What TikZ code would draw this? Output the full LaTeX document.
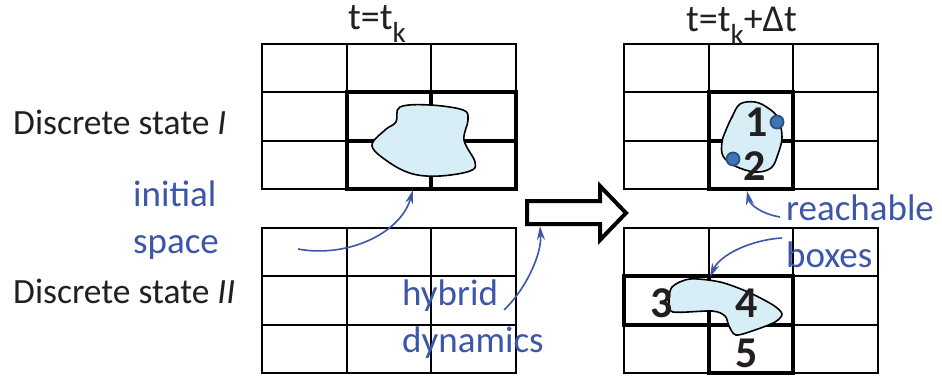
\documentclass[tikz,border=0pt]{standalone}
\usepackage{fontspec}
\setmainfont{Carlito}
\usetikzlibrary{arrows.meta,calc,positioning}
\definecolor{annot}{RGB}{60,86,168}
\definecolor{blobfill}{RGB}{216,238,246}
\definecolor{dotblue}{RGB}{62,117,181}
\definecolor{ink}{RGB}{35,31,32}
\tikzset{
  cell/.style={draw=black,line width=1.8pt},
  reach/.style={draw=black,line width=4pt},
  blob/.style={fill=blobfill,draw=black,line width=1.6pt},
  note/.style={text=annot,font=\fontsize{37}{47}\selectfont,align=left,inner sep=0pt},
  lbl/.style={text=ink,font=\fontsize{35.5}{40}\selectfont,inner sep=0pt},
  ttl/.style={text=ink,font=\fontsize{38}{40}\selectfont,inner sep=0pt},
  num/.style={text=ink,font=\bfseries\fontsize{44}{44}\selectfont,inner sep=0pt},
  pin/.style={-{Stealth[length=14pt,width=8pt]},annot,line width=1.6pt},
  pt/.style={circle,fill=dotblue,draw=dotblue!70!black,line width=1.8pt,inner sep=0pt,minimum size=13pt}
}
\newcommand{\subk}{\raisebox{-13pt}{\fontsize{29}{29}\selectfont k}}

\begin{document}
\begin{tikzpicture}[x=1pt,y=-1pt]
\useasboundingbox (0,0) rectangle (942,377);
% the four grids
\foreach \gx/\gy in {262/44,262/228,624/44,624/228}
  \foreach \i in {0,1,2}
    \foreach \j in {0,1,2}
      \draw[cell] (\gx+\i*84.67,\gy+\j*48.33) rectangle ++(84.67,48.33);
% boxes holding the set
\foreach \gx/\gy/\i/\j in {262/44/1/1,262/44/2/1,262/44/1/2,262/44/2/2,
  624/44/1/1,624/44/1/2,624/228/0/1,624/228/1/1,624/228/1/2}
  \draw[reach] (\gx+\i*84.67,\gy+\j*48.33) rectangle ++(84.67,48.33);
% sets
\draw[blob] plot[smooth cycle,tension=0.6] coordinates {(400,107) (430,105) (463,110) (468,120)
  (464,140) (475,162) (470,171) (440,176) (413,174) (390,163) (372,146) (385,130) (396,122)};
\draw[blob] plot[smooth cycle,tension=0.6] coordinates {(740,104) (755,102) (768,108) (778,118)
  (782,137) (778,154) (771,168) (755,172) (735,166) (723,156) (722,142) (726,130) (732,117)};
\draw[blob] plot[smooth cycle,tension=0.5] coordinates {(672,287) (690,279) (720,282) (748,292)
  (773,305) (782,314) (775,322) (755,330) (736,335) (729,326) (725,316) (712,311) (673,312) (669,302)};
% reached points and boxes
\node[pt] (p1) at (777,122) {};
\node[pt] (p2) at (733,159) {};
\node[num] (n1) at (757,122) {1};
\node[num] (n2) at (755,166) {2};
\node[num] (n3) at (662,303) {3};
\node[num] (n4) at (747,303) {4};
\node[num] (n5) at (747,353) {5};
% time step arrow
\draw[line width=4pt,miter limit=10] (527,201) -- (600,201) -- (600,186) -- (626,213)
  -- (600,240) -- (600,224) -- (527,224) -- cycle;
% titles and state labels
\node[ttl,anchor=base west] (tnow) at (348,30) {t=t\subk};
\node[ttl,anchor=base west] (tnext) at (686,32) {t=t\subk+Δt};
\node[lbl,anchor=base west] (stateI) at (13,135) {Discrete state \textit{I}};
\node[lbl,anchor=base west] (stateII) at (13,303) {Discrete state \textit{II}};
% annotations
\node[note,anchor=base west] (initnote) at (133,253) {initial\\space};
\node[note,anchor=base west] (hybnote) at (402,352) {hybrid\\dynamics};
\node[note,anchor=base west] (reachnote) at (786,267) {reachable\\boxes};
\coordinate (c1) at (298,249);
\coordinate (c2) at (504,310);
\coordinate (c3) at (780,217);
\coordinate (c4) at (782,238);
\draw[pin] (c1) .. controls (345,258) and (400,235) .. (413,190);
\draw[pin] (c2) .. controls (525,290) and (542,255) .. (540,226);
\draw[pin] (c3) .. controls (762,214) and (750,205) .. (747,191);
\draw[pin] (c4) .. controls (750,240) and (720,255) .. (710,277);
\end{tikzpicture}
\end{document}
